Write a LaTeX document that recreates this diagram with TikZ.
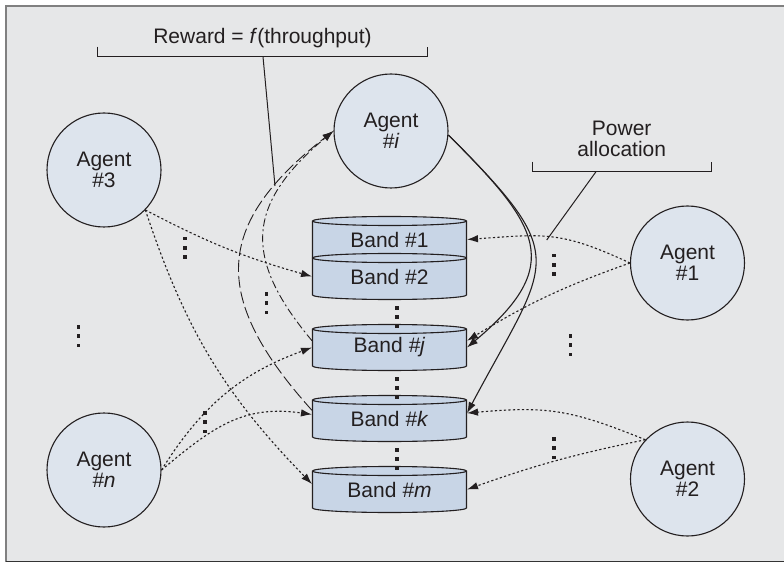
\documentclass[tikz,border=0pt]{standalone}
\usepackage{fontspec}
\setmainfont{Liberation Sans}
\usepackage{tikz}
\usetikzlibrary{arrows.meta}
\definecolor{framebg}{HTML}{E6E7E8}
\definecolor{agentfill}{HTML}{DDE4ED}
\definecolor{bandfill}{HTML}{C8D5E6}
\definecolor{ink}{HTML}{231F20}
\tikzstyle{agent} = [circle, draw=ink, line width=1.1pt, fill=agentfill, minimum size=114pt, inner sep=0pt, align=center]
\tikzstyle{band} = [rectangle, minimum width=154pt, minimum height=37pt, inner sep=0pt]
\tikzstyle{arrowed} = [-{Latex[length=11pt,width=7.5pt]}]
\tikzstyle{my dotted} = [dash pattern=on 2.2pt off 2.3pt, line width=1.1pt]
\tikzstyle{my dashdotted} = [dash pattern=on 8pt off 3pt on 2pt off 3pt, line width=0.9pt]
\tikzstyle{my dashed} = [dash pattern=on 12pt off 4pt, line width=0.9pt]

\begin{document}
\begin{tikzpicture}[x=1pt, y=1pt, ink, line width=1pt,
    every node/.style={font=\fontsize{21}{20.5}\selectfont, text=ink}]
  \useasboundingbox (0,0) rectangle (784,563);
  % Rahmen
  \fill[framebg] (6,1.5) rectangle (784,557);
  \draw[black!50, line width=1.8pt] (6,1.5) -- (6,557) -- (784,557);
  \draw[black!80, line width=1.6pt] (6,1.5) -- (784,1.5);
  % Bands
  \foreach \cy in {323.5,286.5,215.5,144.5,73.5}{
    \filldraw[draw=ink, fill=bandfill, line width=1.1pt] (312.5,\cy+18.5) -- (312.5,\cy-18.5)
      arc[start angle=180, end angle=360, x radius=77, y radius=4.5] -- (466.5,\cy+18.5)
      arc[start angle=0, end angle=180, x radius=77, y radius=4.5] -- cycle;
    \draw[line width=1.1pt] (312.5,\cy+18.5) arc[start angle=180, end angle=360, x radius=77, y radius=4.5];
  }
  \node[band] (b1) at (389.5,323.5) {Band \#1};
  \node[band] (b2) at (389.5,286.5) {Band \#2};
  \node[band] (bj) at (389.5,215.5) {Band \textit{\#j}};
  \node[band] (bk) at (389.5,144.5) {Band \textit{\#k}};
  \node[band] (bm) at (389.5,73.5) {Band \textit{\#m}};
  % Agents
  \node[agent] (a3) at (104,393) {Agent\\\#3};
  \node[agent] (ai) at (391,432) {Agent\\\textit{\#i}};
  \node[agent] (a1) at (687.5,300) {Agent\\\#1};
  \node[agent] (an) at (104,93) {Agent\\\textit{\#n}};
  \node[agent] (a2) at (687.5,84) {Agent\\\#2};
  % Labels
  \node[anchor=base] (reward) at (262.5,519.2) {Reward = \textit{f}(throughput)};
  \draw (97.5,516.3) -- (97.5,506.3) -- (427.5,506.3) -- (427.5,516.3);
  \coordinate (rw1) at (263,506.3);
  \coordinate (rw2) at (275,377);
  \draw (rw1) -- (rw2);
  \node[align=center] (power) at (621.7,424.1) {Power\\allocation};
  \draw (532.7,401.3) -- (532.7,391.3) -- (711.3,391.3) -- (711.3,401.3);
  \coordinate (pw1) at (596,391.3);
  \coordinate (pw2) at (546.7,323);
  \draw (pw1) -- (pw2);
  % Power allocation
  \draw[my dotted, arrowed] (a3.-44) to[bend right=6] (b2.west);
  \draw[my dotted, arrowed] (a3.-44) to[bend right=13] (bm.176);
  \draw[my dotted, arrowed] (an.east) to[out=58,in=200] (bj.west);
  \draw[my dotted, arrowed] (an.east) to[out=40,in=172,looseness=1.1] (bk.177);
  \draw[my dotted, arrowed] (a1.west) to[out=155,in=4,looseness=1.2] (b1.east);
  \draw[my dotted, arrowed] (a1.west) to[bend right=6] (bj.5);
  \draw[my dotted, arrowed] (a2.137) to[out=158,in=5,looseness=1.15] (bk.4);
  \draw[my dotted, arrowed] (a2.137) to[bend right=4] (bm.east);
  \draw[line width=1.1pt, arrowed] (ai.-4) to[out=-45,in=40,looseness=1.55] (bj.east);
  \draw[line width=1.1pt, arrowed] (ai.-4) to[out=-45,in=62,looseness=1.62] (bk.4);
  % Reward
  \draw[my dashdotted, arrowed] (bj.175) to[out=130,in=220,looseness=1.35] (ai.west);
  \draw[my dashed, arrowed] (bk.174) to[out=132,in=218,looseness=1.39] (ai.west);
  % Punkte
  \foreach \px/\py in {78.5/227, 185/315, 266.5/260, 205/141, 554/298, 570.5/218, 554/115, 397/246, 397/175, 397/104}{
    \foreach \k in {-1,0,1}
      \fill (\px-1.8,\py+\k*9.3-1.8) rectangle ++(3.6,3.6);
  }
\end{tikzpicture}
\end{document}
